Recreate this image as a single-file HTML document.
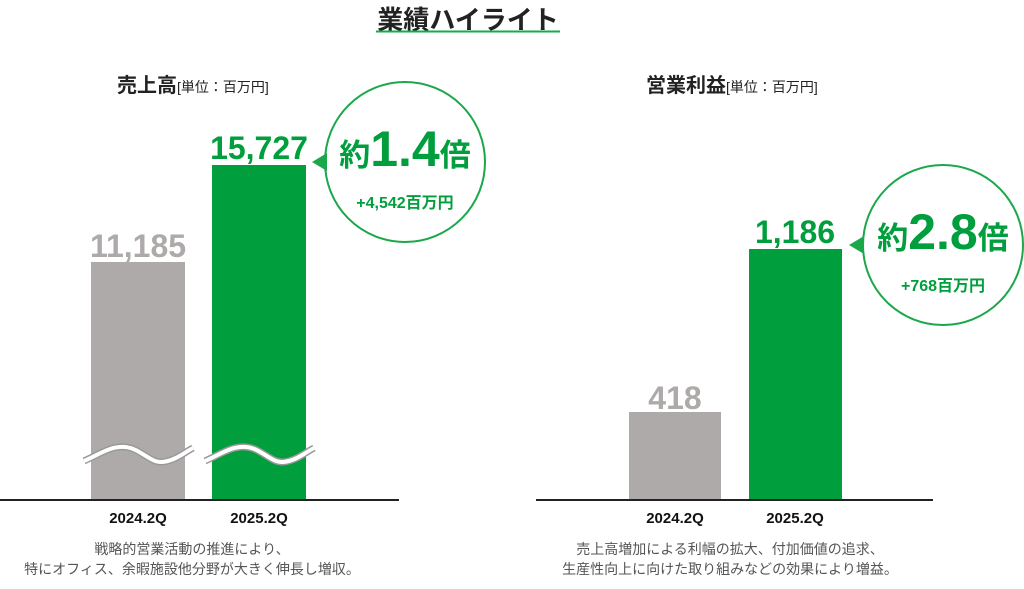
<!DOCTYPE html>
<html><head><meta charset="utf-8"><style>
body{margin:0;background:#fff;width:1024px;height:584px;overflow:hidden}
svg text{font-family:"Liberation Sans","Noto Sans CJK JP",sans-serif}
</style></head><body>
<svg width="1024" height="584" viewBox="0 0 1024 584" xmlns="http://www.w3.org/2000/svg">
<text x="468" y="29" font-size="26" font-weight="bold" fill="#222" text-anchor="middle">業績ハイライト</text>
<line x1="376" y1="31.5" x2="560" y2="31.5" stroke="#1aa84a" stroke-width="2"/>

<!-- left -->
<text x="117" y="92" font-size="20" font-weight="bold" fill="#222">売上高<tspan font-size="14" font-weight="normal">[単位：百万円]</tspan></text>
<rect x="91" y="262" width="94" height="238" fill="#aeaaa9"/>
<rect x="212" y="165" width="94" height="335" fill="#009e3c"/>
<text x="138" y="257" font-size="32" font-weight="bold" fill="#aeaaa9" text-anchor="middle">11,185</text>
<text x="259" y="159" font-size="32" font-weight="bold" fill="#009e3c" text-anchor="middle">15,727</text>
<g fill="none">
<path d="M84 461 C100 454,110 446,125 447 C140 448,150 463,162 462 C175 461,185 452,193 448" stroke="#999" stroke-width="7"/>
<path d="M84 461 C100 454,110 446,125 447 C140 448,150 463,162 462 C175 461,185 452,193 448" stroke="#fff" stroke-width="4"/>
<path d="M205 461 C221 454,231 446,246 447 C261 448,271 463,283 462 C296 461,306 452,314 448" stroke="#999" stroke-width="7"/>
<path d="M205 461 C221 454,231 446,246 447 C261 448,271 463,283 462 C296 461,306 452,314 448" stroke="#fff" stroke-width="4"/>
</g>
<line x1="0" y1="500" x2="399" y2="500" stroke="#222" stroke-width="2"/>
<circle cx="405" cy="162" r="80" fill="#fff" stroke="#1aa84a" stroke-width="2"/>
<polygon points="312,162 327,153 327,171" fill="#1aa84a"/>
<text x="405" y="166" font-weight="bold" fill="#009e3c" text-anchor="middle"><tspan font-size="31">約</tspan><tspan font-size="50">1.4</tspan><tspan font-size="31">倍</tspan></text>
<text x="405" y="208" font-size="16" font-weight="bold" fill="#009e3c" text-anchor="middle">+4,542百万円</text>
<text x="138" y="523" font-size="15" font-weight="bold" fill="#111" text-anchor="middle">2024.2Q</text>
<text x="259" y="523" font-size="15" font-weight="bold" fill="#111" text-anchor="middle">2025.2Q</text>
<text x="192" y="554" font-size="14" fill="#555" text-anchor="middle">戦略的営業活動の推進により、</text>
<text x="192" y="574" font-size="14" fill="#555" text-anchor="middle">特にオフィス、余暇施設他分野が大きく伸長し増収。</text>

<!-- right -->
<text x="646" y="92" font-size="20" font-weight="bold" fill="#222">営業利益<tspan font-size="14" font-weight="normal">[単位：百万円]</tspan></text>
<rect x="629" y="412" width="92" height="88" fill="#aeaaa9"/>
<rect x="749" y="249" width="93" height="251" fill="#009e3c"/>
<text x="675" y="409" font-size="32" font-weight="bold" fill="#aeaaa9" text-anchor="middle">418</text>
<text x="795" y="243" font-size="32" font-weight="bold" fill="#009e3c" text-anchor="middle">1,186</text>
<line x1="536" y1="500" x2="933" y2="500" stroke="#222" stroke-width="2"/>
<circle cx="943" cy="245" r="80" fill="#fff" stroke="#1aa84a" stroke-width="2"/>
<polygon points="849,245 864,236 864,254" fill="#1aa84a"/>
<text x="943" y="249" font-weight="bold" fill="#009e3c" text-anchor="middle"><tspan font-size="31">約</tspan><tspan font-size="50">2.8</tspan><tspan font-size="31">倍</tspan></text>
<text x="943" y="291" font-size="16" font-weight="bold" fill="#009e3c" text-anchor="middle">+768百万円</text>
<text x="675" y="523" font-size="15" font-weight="bold" fill="#111" text-anchor="middle">2024.2Q</text>
<text x="795" y="523" font-size="15" font-weight="bold" fill="#111" text-anchor="middle">2025.2Q</text>
<text x="730" y="554" font-size="14" fill="#555" text-anchor="middle">売上高増加による利幅の拡大、付加価値の追求、</text>
<text x="730" y="574" font-size="14" fill="#555" text-anchor="middle">生産性向上に向けた取り組みなどの効果により増益。</text>
</svg>
</body></html>
